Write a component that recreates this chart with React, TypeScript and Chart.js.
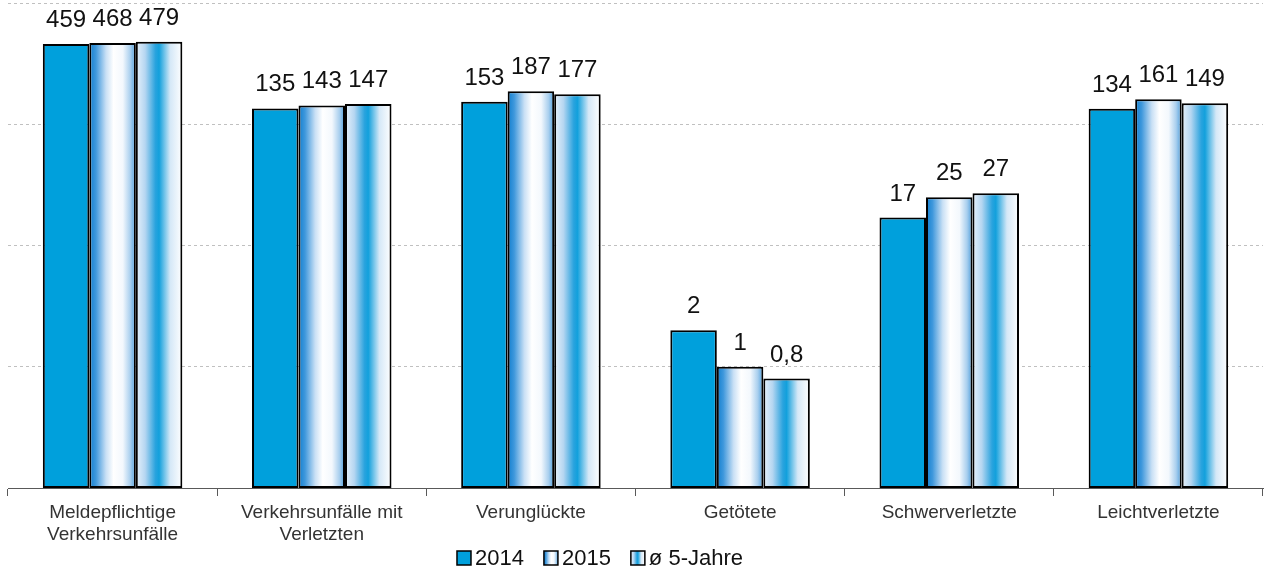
import React, { useEffect, useRef } from "react";
import { Chart, registerables } from "chart.js";
Chart.register(...registerables);

const categories: (string | string[])[] = [
  ["Meldepflichtige", "Verkehrsunfälle"],
  ["Verkehrsunfälle mit", "Verletzten"],
  "Verunglückte",
  "Getötete",
  "Schwerverletzte",
  "Leichtverletzte",
];
const seriesNames = ["2014", "2015", "ø 5-Jahre"];
const values2014 = [459, 135, 153, 2, 17, 134];
const values2015 = [468, 143, 187, 1, 25, 161];
const values5Jahre = [479, 147, 177, 0.8, 27, 149];
const gridTicks = [0.1, 1, 10, 100, 1000];

const CAT_PCT = 0.667;
const FONT = "'Liberation Sans', Arial, sans-serif";
const SOLID = "#00a0dc";
const STOPS_2015: [number, string][] = [
  [0, "#0f7ecf"],
  [0.14, "#3f98dc"],
  [0.36, "#c9e0f5"],
  [0.52, "#ffffff"],
  [0.72, "#f3f8fd"],
  [0.88, "#a9cfee"],
  [1, "#4a9cdc"],
];
const STOPS_5J: [number, string][] = [
  [0, "#e8f2fb"],
  [0.2, "#b5d6f1"],
  [0.42, "#2aa3de"],
  [0.5, "#12a0dc"],
  [0.74, "#d5e8f7"],
  [1, "#ffffff"],
];
const FILLS: (string | [number, string][])[] = [SOLID, STOPS_2015, STOPS_5J];

function fmt(v: number) {
  return v.toLocaleString("de-DE");
}

function makeGrad(ctx: CanvasRenderingContext2D, left: number, w: number, stops: [number, string][]) {
  const g = ctx.createLinearGradient(left, 0, left + w, 0);
  stops.forEach(([o, col]) => g.addColorStop(o, col));
  return g;
}

const gradientPlugin = {
  id: "barGradients",
  beforeDatasetsDraw(chart: any) {
    chart.data.datasets.forEach((_ds: any, di: number) => {
      const f = FILLS[di];
      if (typeof f === "string") return;
      chart.getDatasetMeta(di).data.forEach((el: any) => {
        const left = el.x - el.width / 2;
        if (!isFinite(left) || !isFinite(el.width) || el.width <= 0) return;
        el.options.backgroundColor = makeGrad(chart.ctx, left, el.width, f);
      });
    });
  },
};

const labelPlugin = {
  id: "valueLabels",
  afterDatasetsDraw(chart: any) {
    const ctx = chart.ctx;
    ctx.save();
    ctx.font = `24px ${FONT}`;
    ctx.fillStyle = "#111";
    ctx.textAlign = "center";
    ctx.textBaseline = "alphabetic";
    chart.data.datasets.forEach((ds: any, di: number) => {
      const meta = chart.getDatasetMeta(di);
      meta.data.forEach((el: any, i: number) => {
        ctx.fillText(fmt(ds.data[i]), el.x, el.y - 17);
      });
    });
    ctx.restore();
  },
};

const legendPlugin = {
  id: "customLegend",
  afterDraw(chart: any) {
    const ctx = chart.ctx;
    ctx.save();
    ctx.font = `22px ${FONT}`;
    const box = 14;
    const gapText = 4;
    const gapItem = 20;
    const widths = seriesNames.map((n) => ctx.measureText(n).width);
    const total =
      widths.reduce((a, b) => a + b, 0) + seriesNames.length * (box + gapText) + gapItem * (seriesNames.length - 1);
    let x = 600 - total / 2;
    const cy = 558;
    seriesNames.forEach((name, i) => {
      const f = FILLS[i];
      ctx.fillStyle = typeof f === "string" ? f : makeGrad(ctx, x, box, f);
      ctx.fillRect(x, cy - box / 2, box, box);
      ctx.lineWidth = 1.5;
      ctx.strokeStyle = "#000";
      ctx.strokeRect(x, cy - box / 2, box, box);
      ctx.fillStyle = "#111";
      ctx.textBaseline = "middle";
      ctx.textAlign = "left";
      ctx.fillText(name, x + box + gapText, cy + 1);
      x += box + gapText + widths[i] + gapItem;
    });
    ctx.restore();
  },
};

export default function App() {
  const ref = useRef<HTMLCanvasElement>(null);
  useEffect(() => {
    document.body.style.margin = "0";
    const canvas = ref.current!;
    const common = {
      borderColor: "#000",
      borderWidth: 2,
      borderSkipped: false as const,
      categoryPercentage: CAT_PCT,
      barPercentage: 1,
    };
    const placeholder = () => "#bcdcf3";
    const chart = new Chart(canvas, {
      type: "bar",
      data: {
        labels: categories,
        datasets: [
          { label: seriesNames[0], data: values2014, backgroundColor: SOLID, ...common },
          { label: seriesNames[1], data: values2015, backgroundColor: placeholder, ...common },
          { label: seriesNames[2], data: values5Jahre, backgroundColor: placeholder, ...common },
        ],
      },
      options: {
        animation: false,
        responsive: true,
        maintainAspectRatio: false,
        layout: { padding: { left: 8, right: 4, top: 3, bottom: 0 } },
        plugins: { legend: { display: false }, tooltip: { enabled: false } },
        scales: {
          x: {
            offset: true,
            grid: {
              display: true,
              offset: true,
              drawOnChartArea: false,
              drawTicks: true,
              tickLength: 8,
              color: "#595959",
            },
            border: { display: true, color: "#595959", width: 1 },
            ticks: {
              color: "#333",
              font: { family: FONT, size: 19, lineHeight: 1.16 },
              padding: 6,
              maxRotation: 0,
              autoSkip: false,
            },
            afterFit: (s: any) => {
              s.height = 83;
            },
          },
          y: {
            type: "logarithmic",
            min: 0.1,
            max: 1000,
            afterBuildTicks: (s: any) => {
              s.ticks = gridTicks.map((v) => ({ value: v }));
            },
            afterFit: (s: any) => {
              s.width = 0;
            },
            ticks: { display: false },
            border: { display: false, dash: [3, 3] },
            grid: { color: "#c0c0c0", lineWidth: 1, drawTicks: false },
          },
        },
      },
      plugins: [gradientPlugin, labelPlugin, legendPlugin],
    });
    return () => chart.destroy();
  }, []);
  return (
    <div style={{ position: "fixed", left: 0, top: 0, width: 1267, height: 571 }}>
      <canvas ref={ref} />
    </div>
  );
}
